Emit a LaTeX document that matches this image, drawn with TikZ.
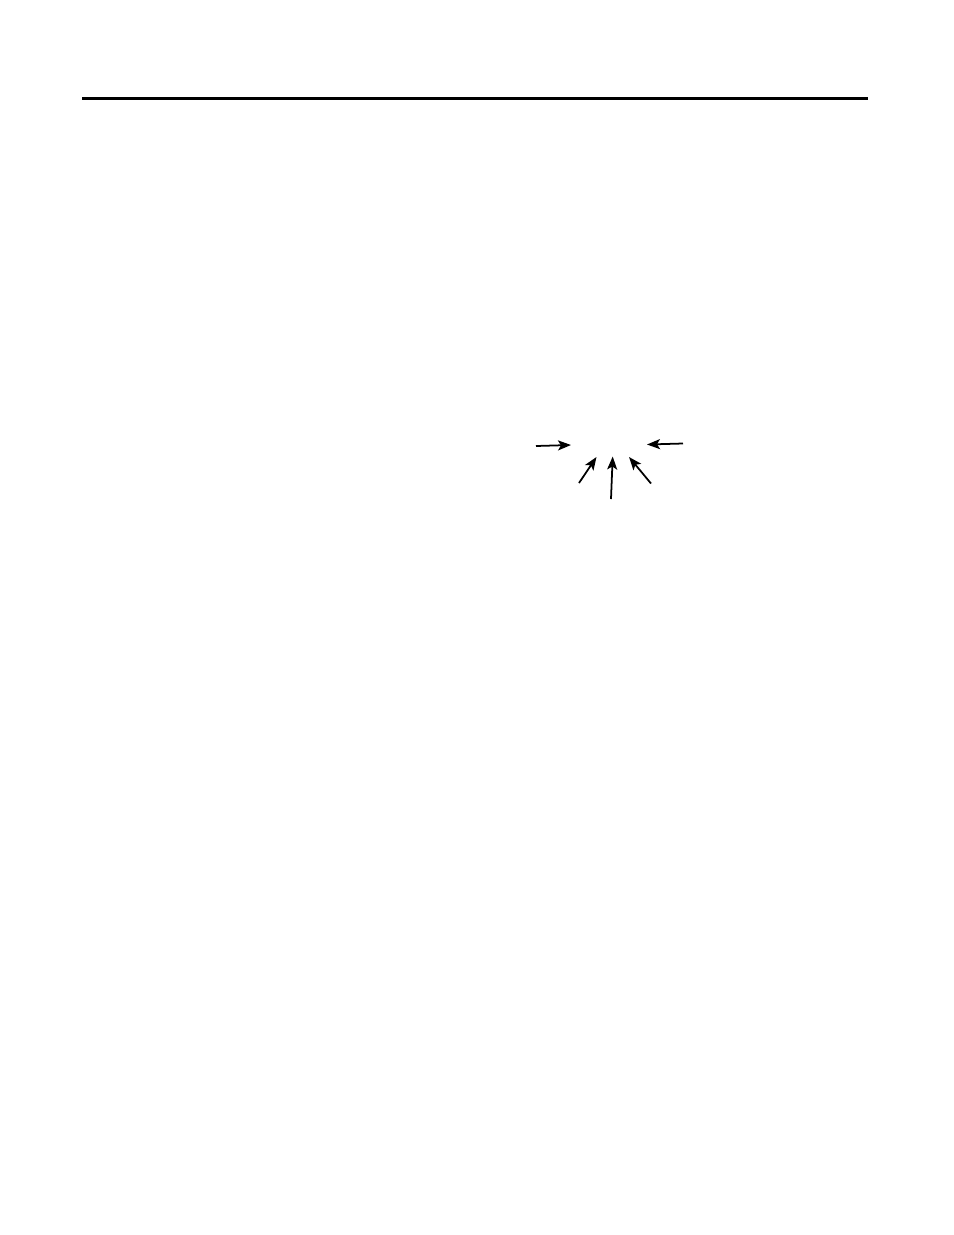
\documentclass[tikz,border=0pt]{standalone}
\usetikzlibrary{arrows.meta}

\tikzset{
	pointer/.style={line width=1pt, -{Stealth[length=2.6mm, width=2mm, inset=0.6mm]}},
}

\begin{document}
\begin{tikzpicture}[x=0.02cm, y=-0.02cm]
		\useasboundingbox (0, 0) rectangle (954, 1235);
		\draw[line width=1.7pt] (82, 98) -- (868, 98);

		% tails and heads of the arrows
		\coordinate (wtail) at (536, 446);
		\coordinate (whead) at (571, 445);
		\coordinate (etail) at (683, 443.5);
		\coordinate (ehead) at (647, 444.5);
		\coordinate (swtail) at (579, 483);
		\coordinate (swhead) at (596.5, 457);
		\coordinate (stail) at (611, 499);
		\coordinate (shead) at (612.7, 456.5);
		\coordinate (setail) at (651, 483.5);
		\coordinate (sehead) at (629, 457);

		\draw[pointer] (wtail) -- (whead);
		\draw[pointer] (etail) -- (ehead);
		\draw[pointer] (swtail) -- (swhead);
		\draw[pointer] (stail) -- (shead);
		\draw[pointer] (setail) -- (sehead);
	\end{tikzpicture}
\end{document}
